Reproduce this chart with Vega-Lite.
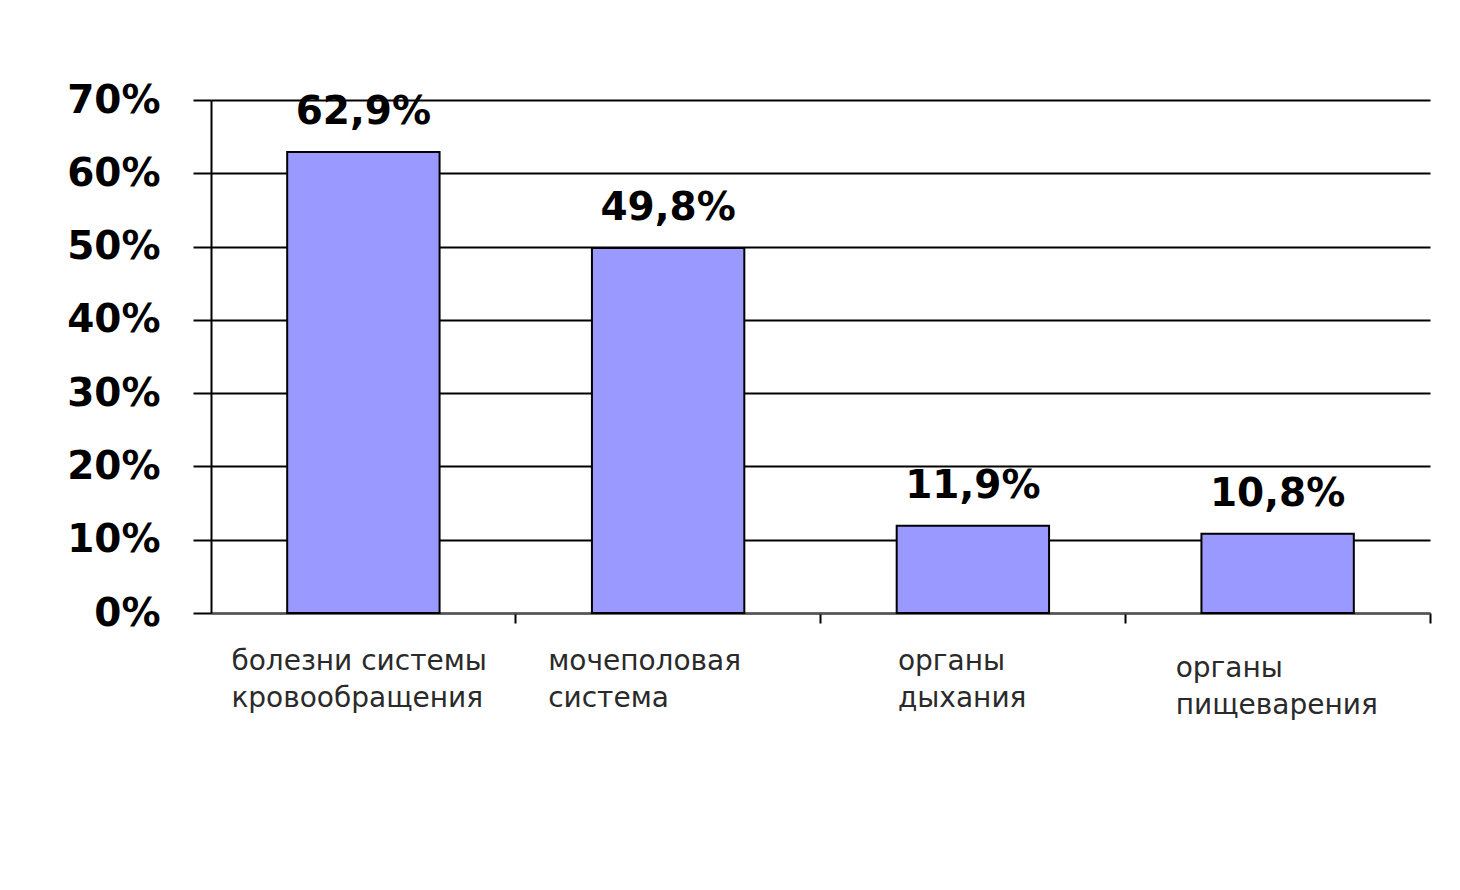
{
  "$schema": "https://vega.github.io/schema/vega-lite/v6.json",
  "width": 1219,
  "height": 513,
  "autosize": {"type": "none"},
  "padding": {"left": 211, "top": 100, "right": 30, "bottom": 277},
  "background": "white",
  "config": {"view": {"stroke": null}, "font": "DejaVu Sans"},
  "data": {
    "values": [
      {"cat": "болезни системы|кровообращения", "value": 0.629, "label": "62,9%"},
      {"cat": "мочеполовая|система", "value": 0.498, "label": "49,8%"},
      {"cat": "органы|дыхания", "value": 0.119, "label": "11,9%"},
      {"cat": "органы|пищеварения", "value": 0.108, "label": "10,8%"}
    ]
  },
  "encoding": {
    "x": {
      "field": "cat",
      "type": "nominal",
      "sort": null,
      "scale": {"paddingInner": 0.5, "paddingOuter": 0.25},
      "axis": {
        "title": null,
        "labelAngle": 0,
        "labelExpr": "split(datum.label, '|')",
        "labelFont": "DejaVu Sans",
        "labelFontSize": 28,
        "labelLimit": 500,
        "labelColor": "#2a2a2a",
        "labelLineHeight": 37,
        "labelAlign": "left",
        "labelOffset": {
          "condition": [
            {"test": "datum.value === 'болезни системы|кровообращения'", "value": -132},
            {"test": "datum.value === 'мочеполовая|система'", "value": -120},
            {"test": "datum.value === 'органы|дыхания'", "value": -75}
          ],
          "value": -102
        },
        "labelPadding": {
          "condition": {"test": "datum.value === 'органы|пищеварения'", "value": 31},
          "value": 24
        },
        "labelBaseline": "top",
        "bandPosition": 1.5,
        "tickSize": 10,
        "tickColor": "black",
        "tickWidth": 2,
        "domainColor": "#555555",
        "domainWidth": 2,
        "grid": false
      }
    }
  },
  "layer": [
    {
      "mark": {"type": "bar", "color": "#9999FF", "stroke": "black", "strokeWidth": 2},
      "encoding": {
        "y": {
          "field": "value",
          "type": "quantitative",
          "scale": {"domain": [0, 0.7], "nice": false},
          "axis": {
            "title": null,
            "values": [0, 0.1, 0.2, 0.3, 0.4, 0.5, 0.6, 0.7],
            "format": ".0%",
            "labelFont": "DejaVu Sans",
            "labelFontWeight": "bold",
            "labelFontSize": 39,
            "labelColor": "black",
            "labelPadding": 33,
            "tickSize": 18,
            "tickColor": "black",
            "tickWidth": 2,
            "domainColor": "black",
            "domainWidth": 2,
            "grid": true,
            "gridColor": "black",
            "gridWidth": 2,
            "gridOpacity": 1
          }
        }
      }
    },
    {
      "mark": {"type": "text", "font": "DejaVu Sans", "fontWeight": "bold", "fontSize": 39, "baseline": "bottom", "dy": -20, "color": "black"},
      "encoding": {
        "y": {"field": "value", "type": "quantitative"},
        "text": {"field": "label"}
      }
    }
  ]
}
